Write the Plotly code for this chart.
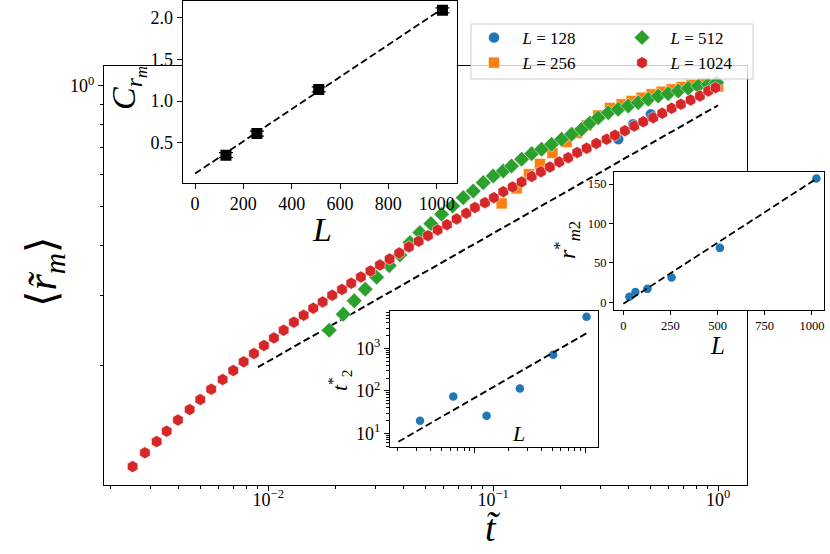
import plotly.graph_objects as go

# ---------------- data ----------------
# main panel: <r_m> vs t~ for several L
t_L128 = [0.3594, 0.4190, 0.5022]
r_L128 = [0.7360, 0.8022, 0.8495]

t_L256 = [0.1090, 0.1271, 0.1441, 0.1613, 0.1833, 0.2120, 0.2355, 0.2602, 0.2929, 0.3302,
          0.3721, 0.4123, 0.4566, 0.5058, 0.5603, 0.6207, 0.6875, 0.7616, 0.8551, 1.0]
r_L256 = [0.5085, 0.5544, 0.6016, 0.6383, 0.6800, 0.7244, 0.7630, 0.7968, 0.8437, 0.8810,
          0.9001, 0.9173, 0.9348, 0.9533, 0.9676, 0.9811, 0.9943, 1.0058, 1.0145, 0.9971]

t_L512 = [0.01867, 0.02154, 0.02411, 0.02698, 0.03032, 0.03450, 0.03849, 0.04264, 0.04723, 0.05285,
          0.05897, 0.06600, 0.07356, 0.08148, 0.09028, 0.1000, 0.1108, 0.1207, 0.1337, 0.1482,
          0.1641, 0.1818, 0.2014, 0.2231, 0.2471, 0.2691, 0.2929, 0.3245, 0.3594, 0.3981,
          0.4410, 0.4886, 0.5412, 0.5995, 0.6640, 0.7356, 0.8148, 0.9029, 0.9837]
r_L512 = [0.2450, 0.2687, 0.2901, 0.3103, 0.3324, 0.3554, 0.3780, 0.4058, 0.4298, 0.4526,
          0.4778, 0.5012, 0.5257, 0.5464, 0.5731, 0.5957, 0.6131, 0.6310, 0.6558, 0.6773,
          0.6947, 0.7149, 0.7359, 0.7574, 0.7795, 0.8083, 0.8332, 0.8574, 0.8744, 0.8913,
          0.9084, 0.9262, 0.9441, 0.9566, 0.9716, 0.9868, 1.0, 1.0099, 1.0192]

t_L1024 = [0.002496, 0.002831, 0.003192, 0.003536, 0.003970, 0.004474, 0.004986, 0.005580, 0.006271, 0.006991,
           0.007775, 0.008638, 0.009570, 0.01060, 0.01171, 0.01300, 0.01437, 0.01585, 0.01745, 0.01925,
           0.02127, 0.02338, 0.02582, 0.02846, 0.03135, 0.03464, 0.03822, 0.04220, 0.04661, 0.05127,
           0.05660, 0.06225, 0.06875, 0.07586, 0.08292, 0.09186, 0.1007, 0.1108, 0.1220, 0.1337,
           0.1482, 0.1629, 0.1786, 0.1965, 0.2154, 0.2362, 0.2602, 0.2870, 0.3192, 0.3475,
           0.3848, 0.4233, 0.4642, 0.5142, 0.5638, 0.6207, 0.6825, 0.7538, 0.8292, 0.9029, 0.9736]
r_L1024 = [0.1117, 0.1209, 0.1290, 0.1370, 0.1460, 0.1551, 0.1643, 0.1744, 0.1844, 0.1942,
           0.2042, 0.2142, 0.2243, 0.2344, 0.2450, 0.2566, 0.2669, 0.2782, 0.2884, 0.2997,
           0.3099, 0.3211, 0.3330, 0.3447, 0.3568, 0.3693, 0.3823, 0.3958, 0.4090, 0.4224,
           0.4365, 0.4500, 0.4650, 0.4806, 0.4964, 0.5108, 0.5257, 0.5442, 0.5592, 0.5754,
           0.5940, 0.6106, 0.6273, 0.6457, 0.6619, 0.6813, 0.6988, 0.7184, 0.7359, 0.7529,
           0.7727, 0.7943, 0.8142, 0.8332, 0.8546, 0.8795, 0.9001, 0.9226, 0.9441, 0.9716, 0.9902]

fit_main_t = [0.009, 1.0]
fit_main_r = [0.198, 0.895]

# inset 1: C_{r_m} vs L
c_L = [128, 256, 512, 1024]
c_val = [0.35, 0.61, 1.14, 2.09]
c_err = [0.03, 0.03, 0.03, 0.03]
c_fit_L = [0, 1024]
c_fit_val = [0.13, 2.11]

# inset 2: r*_{m2} vs L
rs_L = [32, 64, 128, 256, 512, 1024]
rs_val = [7, 13, 17, 31.5, 69, 157]
rs_fit_L = [0, 1024]
rs_fit_val = [-2, 156.7]

# inset 3: t*_2 vs L (log-log)
ts_L = [32, 64, 128, 256, 512, 1024]
ts_val = [19.8, 73.5, 26, 113, 708, 5540]
ts_fit_L = [20.4, 1024]
ts_fit_val = [6.3, 2255]

main_xtick_vals = [0.01, 0.1, 1]
main_xtick_text = ["10<sup>\u22122</sup>", "10<sup>\u22121</sup>", "10<sup>0</sup>"]
main_ytick_vals = [1]
main_ytick_text = ["10<sup>0</sup>"]
c_xticks = [0, 200, 400, 600, 800, 1000]
c_yticks = [0.5, 1.0, 1.5, 2.0]
c_yticktext = ["0.5", "1.0", "1.5", "2.0"]
rs_xticks = [0, 250, 500, 750, 1000]
rs_yticks = [0, 50, 100, 150]
ts_xticks = [100, 1000]
ts_yticks = [10, 100, 1000]
ts_yticktext = ["10<sup>1</sup>", "10<sup>2</sup>", "10<sup>3</sup>"]

# ---------------- helpers ----------------
W, H = 830, 554
FONT = "Liberation Serif, DejaVu Serif, serif"


def px(x):
    return x / W


def py(y):
    return 1 - y / H


def log_minor(decades):
    out = []
    for d in decades:
        for k in range(2, 10):
            out.append(k * 10.0 ** d)
    return out


C_BLUE, C_ORANGE, C_GREEN, C_RED = "#1f77b4", "#ff7f0e", "#2ca02c", "#d62728"
DASH = "7px,3.5px"

fig = go.Figure()

# ---------------- main panel ----------------
fig.add_trace(go.Scatter(x=fit_main_t, y=fit_main_r, mode="lines",
                         line=dict(color="black", width=2, dash=DASH),
                         showlegend=False, xaxis="x", yaxis="y"))
series = [
    (t_L128, r_L128, "128", C_BLUE, "circle", 11, "legend"),
    (t_L256, r_L256, "256", C_ORANGE, "square", 11, "legend"),
    (t_L512, r_L512, "512", C_GREEN, "diamond", 12, "legend2"),
    (t_L1024, r_L1024, "1024", C_RED, "hexagon", 12, "legend2"),
]
for tt, rr, lab, col, sym, sz, lg in series:
    fig.add_trace(go.Scatter(
        x=tt, y=rr, mode="markers", name="\u2002<i>L</i> = " + lab,
        marker=dict(color=col, symbol=sym, size=sz, line=dict(color="white", width=0.5)),
        xaxis="x", yaxis="y", legend=lg))

# ---------------- inset 1 ----------------
fig.add_trace(go.Scatter(x=c_fit_L, y=c_fit_val, mode="lines",
                         line=dict(color="black", width=1.8, dash=DASH),
                         showlegend=False, xaxis="x2", yaxis="y2"))
fig.add_trace(go.Scatter(x=c_L, y=c_val, mode="markers",
                         marker=dict(color="black", symbol="square", size=11),
                         error_y=dict(type="data", array=c_err, color="black", thickness=1.2, width=7),
                         showlegend=False, xaxis="x2", yaxis="y2"))

# ---------------- inset 2 ----------------
fig.add_trace(go.Scatter(x=rs_L, y=rs_val, mode="markers",
                         marker=dict(color=C_BLUE, size=8.5),
                         showlegend=False, xaxis="x3", yaxis="y3"))
fig.add_trace(go.Scatter(x=rs_fit_L, y=rs_fit_val, mode="lines",
                         line=dict(color="black", width=1.8, dash=DASH),
                         showlegend=False, xaxis="x3", yaxis="y3"))

# ---------------- inset 3 ----------------
fig.add_trace(go.Scatter(x=ts_L, y=ts_val, mode="markers",
                         marker=dict(color=C_BLUE, size=8.5),
                         showlegend=False, xaxis="x4", yaxis="y4"))
fig.add_trace(go.Scatter(x=ts_fit_L, y=ts_fit_val, mode="lines",
                         line=dict(color="black", width=1.8, dash=DASH),
                         showlegend=False, xaxis="x4", yaxis="y4"))

axis_common = dict(showline=True, linecolor="black", linewidth=1.1, mirror=True,
                   ticks="outside", ticklen=5, tickwidth=1, tickcolor="black",
                   showgrid=False, zeroline=False)
minor_common = dict(ticks="outside", ticklen=3, tickwidth=0.8, tickcolor="black", showgrid=False)

fig.update_layout(
    width=W, height=H, margin=dict(l=0, r=0, t=0, b=0),
    paper_bgcolor="white", plot_bgcolor="white",
    font=dict(family=FONT, color="black", size=18),
    xaxis=dict(axis_common, domain=[px(104), px(747)], type="log", range=[-2.730, 0.128],
               tickmode="array", tickvals=main_xtick_vals, ticktext=main_xtick_text,
               minor=dict(minor_common, tickvals=log_minor([-3, -2, -1, 0])),
               ticklabelstandoff=-7,
               tickfont=dict(size=18), anchor="y"),
    yaxis=dict(axis_common, domain=[py(485), py(66)], type="log", range=[-0.998, 0.05],
               tickmode="array", tickvals=main_ytick_vals, ticktext=main_ytick_text,
               minor=dict(minor_common, tickvals=log_minor([-1])),
               tickfont=dict(size=18), anchor="x"),
    xaxis2=dict(axis_common, domain=[px(182.7), px(456.7)], range=[-51, 1083],
                tickmode="array", tickvals=c_xticks, tickfont=dict(size=18), anchor="y2"),
    yaxis2=dict(axis_common, domain=[py(182.7), py(0.6)], range=[0.02, 2.207],
                tickmode="array", tickvals=c_yticks, ticktext=c_yticktext,
                tickfont=dict(size=18), anchor="x2"),
    xaxis3=dict(axis_common, domain=[px(614), px(823.5)], range=[-49.4, 1061.6],
                tickmode="array", tickvals=rs_xticks, tickfont=dict(size=12.5),
                ticklen=4, anchor="y3"),
    yaxis3=dict(axis_common, domain=[py(310), py(171.7)], range=[-9.8, 165.6],
                tickmode="array", tickvals=rs_yticks, tickfont=dict(size=12.5),
                ticklen=4, anchor="x3"),
    xaxis4=dict(axis_common, domain=[px(390), px(597.7)], type="log", range=[1.2339, 3.1115],
                tickmode="array", tickvals=ts_xticks, showticklabels=False,
                minor=dict(minor_common, tickvals=log_minor([1, 2])), anchor="y4"),
    yaxis4=dict(axis_common, domain=[py(447.3), py(310.7)], type="log", range=[0.6706, 3.8847],
                tickmode="array", tickvals=ts_yticks, ticktext=ts_yticktext,
                minor=dict(minor_common, tickvals=log_minor([0, 1, 2, 3])),
                tickfont=dict(size=18), anchor="x4"),
    legend=dict(x=px(474), y=py(20), xanchor="left", yanchor="top",
                bgcolor="rgba(0,0,0,0)", borderwidth=0, tracegroupgap=0,
                font=dict(family=FONT, size=17)),
    legend2=dict(x=px(622), y=py(20), xanchor="left", yanchor="top",
                 bgcolor="rgba(0,0,0,0)", borderwidth=0, tracegroupgap=0,
                 font=dict(family=FONT, size=17)),
    shapes=[dict(type="rect", xref="paper", yref="paper",
                 x0=px(471), x1=px(753), y0=py(79), y1=py(24),
                 fillcolor="rgba(255,255,255,0.8)", line=dict(color="#cccccc", width=1),
                 layer="above")],
    showlegend=True,
)


def label(text, x, y, size, angle=0):
    fig.add_annotation(text=text, x=px(x), y=py(y), xref="paper", yref="paper",
                       showarrow=False, textangle=angle, xanchor="center", yanchor="middle",
                       font=dict(family=FONT, size=size, color="black"))


label("\u27e8<i>r\u0303<sub>m</sub></i>\u27e9", 45, 272, 42, -90)
label("<i>t\u0303</i>", 493, 528, 38)
label("<i>C<sub>r<sub>m</sub></sub></i>", 128, 88, 34, -90)
label("<i>L</i>", 322, 229, 34)
label("<i>r</i><sup>*</sup><sub><i>m</i>2</sub>", 567, 240, 24, -90)
label("<i>L</i>", 717, 345, 25)
label("<i>t</i><sup>*</sup><sub>2</sub>", 339, 380, 22, -90)
label("<i>L</i>", 518, 433, 22)

fig.write_html("out.html", config={"displayModeBar": False},
               post_script="document.body.style.margin='0';document.body.style.overflow='hidden';")
